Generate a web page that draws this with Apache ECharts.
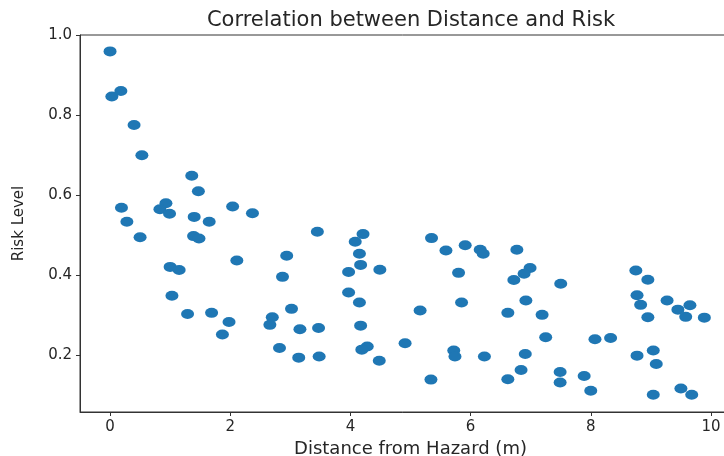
<!DOCTYPE html>
<html>
<head>
<meta charset="utf-8">
<script src="https://cdn.jsdelivr.net/npm/echarts@6/dist/echarts.min.js"></script>
<style>
  html, body { margin: 0; padding: 0; background: #fff; }
  #chart { width: 724px; height: 456px; }
</style>
</head>
<body>
<div id="chart"></div>
<script>
  // values
  const distance = [
    0.00, 0.18, 0.03, 0.40, 0.53, 1.36, 1.47, 0.19, 0.28, 0.93, 0.83, 0.99, 1.40, 1.65, 2.04, 2.37,
    0.50, 1.39, 1.48, 2.11, 1.00, 1.15, 1.03, 1.29, 1.69, 1.98, 1.87,
    3.45, 4.21, 4.08, 2.94, 4.15, 4.17, 3.97, 4.49, 2.87, 3.97, 4.15, 3.02, 5.35, 5.16,
    2.70, 2.66, 3.16, 3.47, 4.17, 2.82, 3.14, 3.48, 4.28, 4.19, 4.48, 4.91, 5.34,
    5.59, 5.91, 6.16, 6.21, 6.77, 5.80, 6.99, 6.89, 6.72, 7.50, 5.85, 6.92, 6.62, 7.19, 7.25,
    5.72, 5.74, 6.23, 6.91, 6.84, 6.62, 7.49, 7.49,
    8.75, 8.95, 8.77, 8.83, 8.95, 9.27, 9.45, 9.65, 9.58, 9.89, 8.07, 8.33, 8.77, 9.04, 9.09,
    7.89, 8.00, 9.04, 9.50, 9.68
  ]
  const risk = [
    0.959, 0.860, 0.846, 0.775, 0.699, 0.648, 0.609, 0.568, 0.533, 0.579, 0.564, 0.553, 0.545, 0.533, 0.571, 0.554,
    0.494, 0.497, 0.491, 0.436, 0.420, 0.412, 0.348, 0.302, 0.305, 0.282, 0.251,
    0.508, 0.502, 0.483, 0.448, 0.453, 0.425, 0.407, 0.413, 0.395, 0.356, 0.331, 0.315, 0.492, 0.311,
    0.294, 0.275, 0.264, 0.267, 0.273, 0.217, 0.193, 0.196, 0.221, 0.213, 0.185, 0.229, 0.138,
    0.461, 0.474, 0.463, 0.453, 0.463, 0.405, 0.417, 0.403, 0.387, 0.378, 0.331, 0.336, 0.305, 0.300, 0.244,
    0.211, 0.196, 0.196, 0.202, 0.162, 0.139, 0.157, 0.131,
    0.411, 0.388, 0.349, 0.325, 0.294, 0.336, 0.313, 0.324, 0.295, 0.293, 0.239, 0.242, 0.198, 0.211, 0.177,
    0.147, 0.110, 0.100, 0.116, 0.100
  ]
  const xTicks = [0, 2, 4, 6, 8, 10]
  const yTicks = [0.2, 0.4, 0.6, 0.8, 1.0]

  let points = distance.map((d, i) => [d, risk[i]])

  let chart = echarts.init(document.getElementById('chart'))
  let textColor = '#262626'
  let options = {
    animation: false,
    textStyle: { fontFamily: 'DejaVu Sans' },
    title: {
      text: 'Correlation between Distance and Risk',
      left: 406,
      top: 5,
      textAlign: 'center',
      textStyle: { fontSize: 21, fontWeight: 'normal', color: textColor, fontFamily: 'DejaVu Sans' }
    },
    grid: {
      show: true,
      outerBoundsMode: 'none',
      containLabel: false,
      left: 80,
      top: 35,
      right: -17,
      bottom: 44,
      borderColor: '#333',
      borderWidth: 1,
      backgroundColor: '#fff'
    },
    xAxis: {
      type: 'value',
      min: -0.5,
      max: 10.5,
      name: 'Distance from Hazard (m)',
      nameLocation: 'middle',
      nameGap: 27,
      nameTextStyle: { fontSize: 18, color: textColor },
      axisLine: { show: true, onZero: false, lineStyle: { color: '#333' } },
      axisTick: { show: true, length: 4, customValues: xTicks, lineStyle: { color: '#333' } },
      axisLabel: { customValues: xTicks, fontSize: 15, color: textColor, margin: 8 },
      splitLine: { show: false }
    },
    yAxis: {
      type: 'value',
      min: 0.057,
      max: 1.0,
      name: 'Risk Level',
      nameLocation: 'middle',
      nameGap: 53,
      nameTextStyle: { fontSize: 15, color: textColor },
      axisLine: { show: true, onZero: false, lineStyle: { color: '#333' } },
      axisTick: { show: true, length: 4, customValues: yTicks, lineStyle: { color: '#333' } },
      axisLabel: {
        customValues: yTicks,
        fontSize: 15,
        color: textColor,
        margin: 8,
        formatter: v => v.toFixed(1)
      },
      splitLine: { show: false }
    },
    series: [{
      type: 'scatter',
      data: points,
      symbol: 'circle',
      symbolSize: [13, 10],
      itemStyle: { color: '#1f77b4', opacity: 1 }
    }]
  }
  chart.setOption(options, true)
</script>
</body>
</html>
